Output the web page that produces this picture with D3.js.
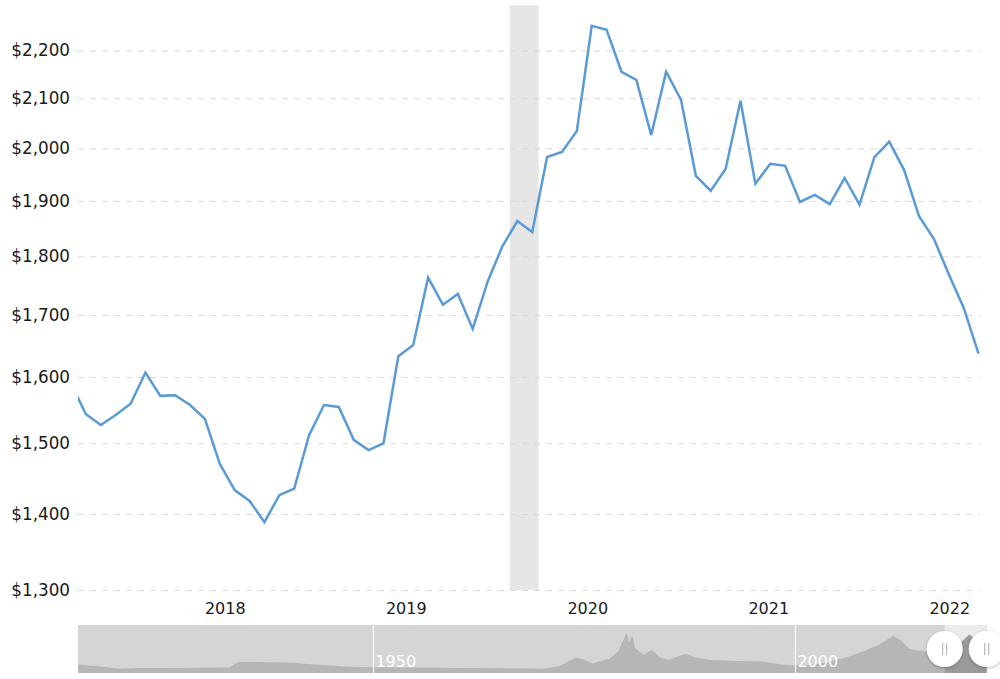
<!DOCTYPE html>
<html><head><meta charset="utf-8">
<script src="https://cdn.jsdelivr.net/npm/d3@7"></script>
<style>
body{margin:0;background:#fff;}
svg text{font-family:"DejaVu Sans",Verdana,sans-serif;}
</style>
</head><body>
<svg id="chart" width="1000" height="679"></svg>
<script>
// ---- data ----
const seriesStart = new Date(2017, 7, 26);   // first (clipped) observation
const stepDays = 30;                          // sampling interval of the series
const prices = [1590, 1543, 1527, 1542, 1559, 1607, 1571, 1572, 1557, 1536, 1470, 1433, 1418, 1389, 1426, 1435,
  1512, 1557, 1554, 1505, 1490, 1500, 1633, 1651, 1763, 1717, 1735, 1677, 1756, 1818, 1863, 1843,
  1983, 1993, 2034, 2254, 2245, 2155, 2138, 2026, 2155, 2097, 1947, 1919, 1960, 2095, 1932, 1970,
  1966, 1898, 1911, 1894, 1943, 1893, 1983, 2013, 1958, 1872, 1831, 1769, 1712, 1637];
const viewStart = new Date(2017, 8, 9);
const viewEnd = new Date(2022, 8, 2);
const yTicks = [1300, 1400, 1500, 1600, 1700, 1800, 1900, 2000, 2100, 2200];
const xTickYears = [2018, 2019, 2020, 2021, 2022];
const recession = [new Date(2020, 0, 28), new Date(2020, 2, 26)];

// long-run history shown in the navigator
const navYears = [1915, 1918, 1920, 1922, 1926, 1930, 1933, 1934, 1936, 1940, 1943, 1947, 1950, 1955, 1960, 1965, 1970, 1972,
  1974, 1975, 1976, 1977, 1978, 1979, 1980.0, 1980.3, 1980.7, 1981, 1982, 1983, 1984, 1985, 1987, 1988, 1990, 1993,
  1996, 1999, 2001, 2003, 2006, 2008, 2010, 2011.6, 2012.5, 2013.5, 2015.9, 2016.5, 2018.6, 2020.6, 2021.5, 2022.7];
const navValues = [480, 360, 250, 290, 290, 310, 340, 640, 640, 610, 500, 370, 340, 320, 290, 280, 250, 390,
  890, 780, 560, 700, 840, 1260, 2350, 1820, 2180, 1450, 1060, 1340, 900, 780, 1120, 920, 760, 700,
  670, 450, 420, 560, 900, 1260, 1680, 2180, 1900, 1400, 1230, 1400, 1320, 2240, 1930, 1680];
const navTickYears = [1950, 2000];

// ---- layout ----
const svg = d3.select("#chart");
const L = 78, R = 980, T = 5, B = 590;

const x = d3.scaleTime().domain([viewStart, viewEnd]).range([L, R]);
const y = d3.scaleLog().domain([1300, 2300]).range([B, T]);

const data = prices.map((v, i) => ({date: d3.timeDay.offset(seriesStart, i * stepDays), v}));

// recession band
svg.append("rect")
  .attr("x", x(recession[0])).attr("y", T)
  .attr("width", x(recession[1]) - x(recession[0])).attr("height", B - T)
  .attr("fill", "#e6e6e6");

// y grid + labels
const yAxis = d3.axisLeft(y).tickValues(yTicks)
  .tickSize(-(R - L)).tickPadding(8)
  .tickFormat(d => "$" + d3.format(",")(d));
const gy = svg.append("g").attr("transform", `translate(${L},0)`).call(yAxis);
gy.select(".domain").remove();
gy.selectAll(".tick line").attr("stroke", "#d9d9d9").attr("stroke-dasharray", "6,6").attr("stroke-width", 1);
gy.selectAll(".tick text").attr("font-size", 16.8).attr("fill", "#1a1a1a").attr("x", -8)
  .style("font-family", '"DejaVu Sans",Verdana,sans-serif');

// x labels (centred in each year)
const xAxis = d3.axisBottom(x).tickValues(xTickYears.map(yr => new Date(yr, 6, 2)))
  .tickSize(0).tickPadding(0).tickFormat(d3.timeFormat("%Y"));
const gx = svg.append("g").attr("transform", `translate(0,${B + 13})`).call(xAxis);
gx.select(".domain").remove();
gx.selectAll(".tick text").attr("font-size", 16).attr("fill", "#1a1a1a")
  .style("font-family", '"DejaVu Sans",Verdana,sans-serif');

// clip + line
svg.append("clipPath").attr("id", "plotClip").append("rect")
  .attr("x", L).attr("y", 0).attr("width", R - L).attr("height", B + 5);
svg.append("path").datum(data)
  .attr("clip-path", "url(#plotClip)")
  .attr("fill", "none").attr("stroke", "#5b9bd5").attr("stroke-width", 2.5)
  .attr("d", d3.line().x(d => x(d.date)).y(d => y(d.v)));

// ---- navigator ----
const NL = 78, NR = 987, NT = 625, NB = 673;
const toYear = d => d.getFullYear() + d3.timeDay.count(d3.timeYear(d), d) / 365;
const nx = d3.scaleLinear().domain([1915, 2022.7]).range([NL, NR]);
const ny = d3.scaleLinear().domain([0, 2800]).range([NB, NT]);
const selA = nx(toYear(viewStart)), selB = nx(toYear(viewEnd));

const nav = svg.append("g");
nav.append("rect").attr("x", NL).attr("y", NT).attr("width", NR - NL).attr("height", NB - NT).attr("fill", "#d5d5d5");
nav.append("rect").attr("x", selA).attr("y", NT).attr("width", selB - selA).attr("height", NB - NT).attr("fill", "#ebebeb");

const navPts = navYears.map((yr, i) => [yr, navValues[i]]);
const area = d3.area().x(d => nx(d[0])).y0(NB).y1(d => ny(d[1]));
svg.append("clipPath").attr("id", "navOut").append("rect").attr("x", NL).attr("y", NT).attr("width", selA - NL).attr("height", NB - NT);
svg.append("clipPath").attr("id", "navIn").append("rect").attr("x", selA).attr("y", NT).attr("width", selB - selA).attr("height", NB - NT);
nav.append("path").datum(navPts).attr("d", area).attr("fill", "#b6b6b6").attr("clip-path", "url(#navOut)");
nav.append("path").datum(navPts).attr("d", area).attr("fill", "#9a9a9a").attr("clip-path", "url(#navIn)");

navTickYears.forEach(yr => {
  nav.append("line").attr("x1", nx(yr)).attr("x2", nx(yr)).attr("y1", NT).attr("y2", NB)
    .attr("stroke", "#fff").attr("stroke-width", 1);
  nav.append("text").attr("x", nx(yr) + 2).attr("y", NB - 6).attr("font-size", 16)
    .attr("fill", "#fff").text(yr);
});

// handles
const defs = svg.append("defs");
const f = defs.append("filter").attr("id", "sh").attr("x", "-50%").attr("y", "-50%").attr("width", "200%").attr("height", "200%");
f.append("feDropShadow").attr("dx", 0).attr("dy", 1).attr("stdDeviation", 1.5).attr("flood-color", "#000").attr("flood-opacity", 0.3);
[selA, selB].forEach(cx => {
  nav.append("circle").attr("cx", cx).attr("cy", (NT + NB) / 2).attr("r", 18)
    .attr("fill", "#fff").attr("filter", "url(#sh)");
  [-2, 2].forEach(dx => nav.append("line")
    .attr("x1", cx + dx).attr("x2", cx + dx).attr("y1", (NT + NB) / 2 - 6).attr("y2", (NT + NB) / 2 + 6)
    .attr("stroke", "#aaa").attr("stroke-width", 1));
});
</script>
</body></html>
